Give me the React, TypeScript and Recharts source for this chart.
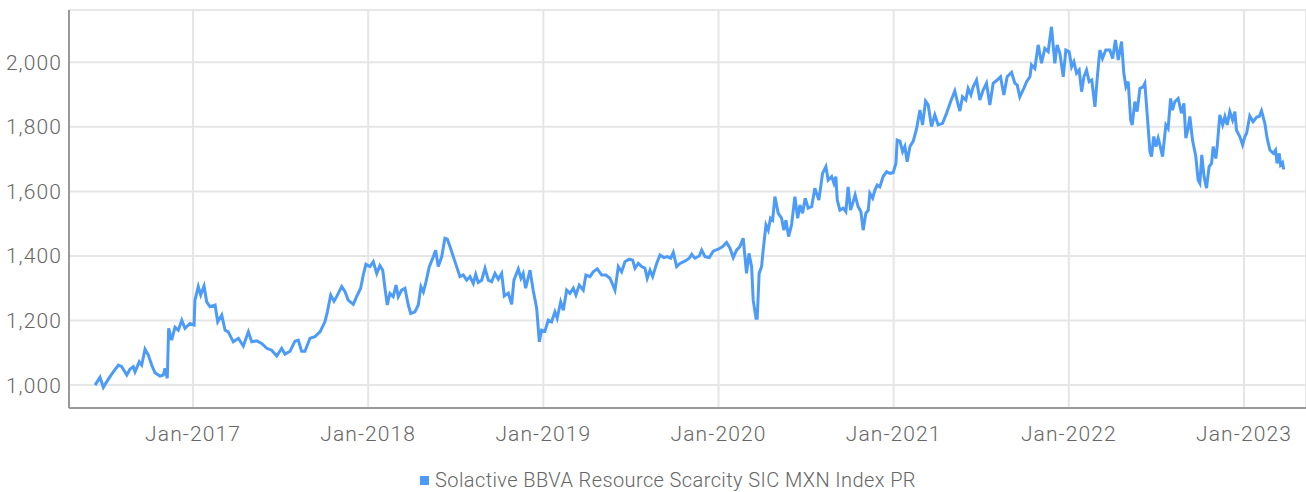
import { LineChart, Line, XAxis, YAxis, CartesianGrid, Legend } from 'recharts';

// time is a decimal year, level is the index value
const y2016: [number, number][] = [
  [2016.441, 1000], [2016.469, 1024], [2016.488, 993], [2016.507, 1010], [2016.526, 1026],
  [2016.545, 1041], [2016.574, 1062], [2016.593, 1057], [2016.622, 1031], [2016.640, 1049],
  [2016.659, 1057], [2016.669, 1041], [2016.693, 1072], [2016.707, 1062], [2016.726, 1111],
  [2016.745, 1093], [2016.764, 1062], [2016.783, 1038], [2016.812, 1028], [2016.830, 1031],
  [2016.840, 1052], [2016.853, 1021], [2016.861, 1176], [2016.878, 1139], [2016.897, 1179],
  [2016.916, 1170], [2016.936, 1201], [2016.954, 1176], [2016.983, 1191],
];

const y2017: [number, number][] = [
  [2017.006, 1186], [2017.011, 1263], [2017.030, 1305], [2017.044, 1279], [2017.063, 1307],
  [2017.078, 1258], [2017.097, 1243], [2017.126, 1248], [2017.141, 1196], [2017.164, 1217],
  [2017.183, 1170], [2017.201, 1165], [2017.230, 1134], [2017.259, 1145], [2017.287, 1121],
  [2017.316, 1165], [2017.335, 1134], [2017.364, 1137], [2017.392, 1129], [2017.421, 1114],
  [2017.449, 1108], [2017.478, 1090], [2017.506, 1114], [2017.525, 1096], [2017.554, 1105],
  [2017.582, 1136], [2017.601, 1139], [2017.620, 1105], [2017.639, 1105], [2017.668, 1145],
  [2017.696, 1150], [2017.725, 1165], [2017.753, 1196], [2017.767, 1227], [2017.786, 1279],
  [2017.805, 1260], [2017.820, 1274], [2017.849, 1305], [2017.868, 1289], [2017.886, 1263],
  [2017.915, 1250], [2017.934, 1274], [2017.957, 1300], [2017.972, 1341], [2017.987, 1374],
];

const y2018: [number, number][] = [
  [2018.010, 1367], [2018.029, 1382], [2018.049, 1346], [2018.067, 1370], [2018.083, 1356],
  [2018.096, 1300], [2018.109, 1248], [2018.124, 1284], [2018.143, 1274], [2018.159, 1310],
  [2018.172, 1274], [2018.191, 1294], [2018.210, 1300], [2018.229, 1248], [2018.243, 1222],
  [2018.267, 1227], [2018.286, 1248], [2018.301, 1305], [2018.315, 1289], [2018.330, 1320],
  [2018.349, 1367], [2018.372, 1398], [2018.385, 1418], [2018.400, 1367], [2018.420, 1398],
  [2018.438, 1455], [2018.452, 1452], [2018.467, 1429], [2018.486, 1398], [2018.505, 1367],
  [2018.524, 1336], [2018.543, 1341], [2018.562, 1325], [2018.581, 1336], [2018.600, 1315],
  [2018.614, 1343], [2018.628, 1318], [2018.648, 1325], [2018.667, 1362], [2018.686, 1325],
  [2018.705, 1320], [2018.724, 1346], [2018.743, 1328], [2018.762, 1346], [2018.777, 1276],
  [2018.800, 1285], [2018.819, 1250], [2018.832, 1325], [2018.857, 1360], [2018.872, 1331],
  [2018.885, 1346], [2018.899, 1300], [2018.924, 1356], [2018.942, 1294], [2018.962, 1238],
  [2018.977, 1134], [2018.990, 1170],
];

const y2019: [number, number][] = [
  [2019.009, 1167], [2019.028, 1201], [2019.047, 1196], [2019.066, 1227], [2019.079, 1207],
  [2019.099, 1258], [2019.114, 1232], [2019.133, 1294], [2019.152, 1284], [2019.171, 1300],
  [2019.186, 1279], [2019.205, 1310], [2019.228, 1294], [2019.243, 1341], [2019.266, 1336],
  [2019.285, 1351], [2019.308, 1360], [2019.333, 1341], [2019.357, 1341], [2019.380, 1331],
  [2019.393, 1315], [2019.409, 1294], [2019.428, 1367], [2019.447, 1351], [2019.466, 1382],
  [2019.490, 1390], [2019.510, 1387], [2019.523, 1362], [2019.542, 1377], [2019.561, 1367],
  [2019.580, 1362], [2019.593, 1331], [2019.609, 1356], [2019.624, 1336], [2019.647, 1377],
  [2019.666, 1403], [2019.688, 1395], [2019.707, 1398], [2019.727, 1393], [2019.742, 1411],
  [2019.761, 1367], [2019.780, 1377], [2019.808, 1384], [2019.833, 1393], [2019.847, 1405],
  [2019.865, 1393], [2019.890, 1400], [2019.904, 1418], [2019.923, 1398], [2019.947, 1395],
  [2019.970, 1415], [2019.998, 1421],
];

const y2020: [number, number][] = [
  [2020.024, 1429], [2020.046, 1442], [2020.065, 1425], [2020.084, 1395], [2020.103, 1418],
  [2020.122, 1429], [2020.141, 1455], [2020.160, 1346], [2020.174, 1408], [2020.189, 1367],
  [2020.198, 1263], [2020.214, 1207], [2020.221, 1207], [2020.232, 1346], [2020.246, 1367],
  [2020.255, 1418], [2020.271, 1496], [2020.284, 1480], [2020.297, 1517], [2020.309, 1511],
  [2020.322, 1584], [2020.341, 1532], [2020.360, 1517], [2020.373, 1480], [2020.385, 1511],
  [2020.400, 1460], [2020.417, 1496], [2020.436, 1584], [2020.452, 1517], [2020.465, 1558],
  [2020.480, 1532], [2020.495, 1579], [2020.512, 1548], [2020.532, 1553], [2020.550, 1610],
  [2020.573, 1573], [2020.594, 1656], [2020.613, 1677], [2020.626, 1635], [2020.646, 1646],
  [2020.659, 1625], [2020.670, 1646], [2020.678, 1573], [2020.693, 1542], [2020.712, 1548],
  [2020.727, 1537], [2020.740, 1614], [2020.754, 1542], [2020.769, 1568], [2020.780, 1589],
  [2020.797, 1553], [2020.813, 1537], [2020.826, 1480], [2020.841, 1532], [2020.855, 1542],
  [2020.864, 1594], [2020.880, 1579], [2020.893, 1604], [2020.906, 1620], [2020.921, 1614],
  [2020.940, 1646], [2020.960, 1661], [2020.978, 1656], [2020.997, 1658],
];

const y2021: [number, number][] = [
  [2021.013, 1687], [2021.020, 1759], [2021.036, 1756], [2021.051, 1723], [2021.064, 1739],
  [2021.077, 1692], [2021.093, 1739], [2021.112, 1756], [2021.131, 1795], [2021.150, 1852],
  [2021.165, 1806], [2021.182, 1880], [2021.197, 1868], [2021.216, 1801], [2021.235, 1837],
  [2021.254, 1806], [2021.279, 1811], [2021.302, 1842], [2021.325, 1878], [2021.349, 1911],
  [2021.363, 1880], [2021.378, 1849], [2021.393, 1893], [2021.412, 1883], [2021.425, 1919],
  [2021.441, 1899], [2021.454, 1924], [2021.473, 1945], [2021.492, 1883], [2021.511, 1914],
  [2021.530, 1935], [2021.549, 1868], [2021.568, 1935], [2021.591, 1945], [2021.610, 1955],
  [2021.629, 1899], [2021.648, 1955], [2021.673, 1969], [2021.692, 1935], [2021.705, 1930],
  [2021.720, 1893], [2021.743, 1919], [2021.759, 1940], [2021.778, 1955], [2021.787, 1992],
  [2021.806, 1981], [2021.825, 2054], [2021.844, 1997], [2021.863, 2043], [2021.882, 2033],
  [2021.901, 2110], [2021.920, 1997], [2021.933, 2054], [2021.949, 2028], [2021.968, 1955],
  [2021.983, 2038],
];

const y2022: [number, number][] = [
  [2022.002, 2033], [2022.016, 1986], [2022.029, 2002], [2022.044, 1966], [2022.059, 1976],
  [2022.073, 1909], [2022.086, 1955], [2022.101, 1976], [2022.116, 1940], [2022.131, 1945],
  [2022.149, 1862], [2022.162, 1950], [2022.177, 2038], [2022.192, 2012], [2022.211, 2038],
  [2022.234, 2038], [2022.250, 2012], [2022.266, 2069], [2022.282, 2007], [2022.301, 2064],
  [2022.314, 1966], [2022.326, 1924], [2022.339, 1940], [2022.353, 1821], [2022.362, 1806],
  [2022.377, 1878], [2022.390, 1847], [2022.406, 1919], [2022.424, 1924], [2022.434, 1935],
  [2022.447, 1842], [2022.463, 1723], [2022.472, 1708], [2022.485, 1770], [2022.497, 1739],
  [2022.510, 1765], [2022.520, 1744], [2022.535, 1708], [2022.554, 1806], [2022.567, 1795],
  [2022.581, 1888], [2022.592, 1852], [2022.605, 1878], [2022.624, 1888], [2022.643, 1842],
  [2022.657, 1873], [2022.668, 1765], [2022.681, 1795], [2022.691, 1832], [2022.706, 1759],
  [2022.725, 1708], [2022.738, 1635], [2022.748, 1625], [2022.759, 1713], [2022.772, 1646],
  [2022.786, 1610], [2022.801, 1677], [2022.815, 1687], [2022.824, 1739], [2022.839, 1702],
  [2022.847, 1739], [2022.862, 1837], [2022.878, 1806], [2022.891, 1832], [2022.904, 1806],
  [2022.919, 1847], [2022.935, 1821], [2022.948, 1847], [2022.957, 1790], [2022.976, 1770],
  [2022.992, 1744],
];

const y2023: [number, number][] = [
  [2023.005, 1770], [2023.015, 1780], [2023.033, 1834], [2023.052, 1816], [2023.072, 1830],
  [2023.087, 1832], [2023.100, 1850], [2023.119, 1811], [2023.132, 1765], [2023.148, 1728],
  [2023.167, 1718], [2023.180, 1728], [2023.189, 1687], [2023.201, 1718], [2023.209, 1682],
  [2023.220, 1689], [2023.227, 1668],
];

const yearTicks = [2017, 2018, 2019, 2020, 2021, 2022, 2023];
const levelTicks = [1000, 1200, 1400, 1600, 1800, 2000];
const seriesName = 'Solactive BBVA Resource Scarcity SIC MXN Index PR';

const data = [...y2016, ...y2017, ...y2018, ...y2019, ...y2020, ...y2021, ...y2022, ...y2023].map(
  ([t, v]) => ({ t, v })
);

const lineColor = '#4d9bf8';
const font = 'Roboto, sans-serif';
const tickStyle = { fill: '#666', fontSize: 21, fontFamily: font, fontWeight: 300, letterSpacing: 1.1 };

function LegendBox() {
  return (
    <div
      style={{
        display: 'flex',
        justifyContent: 'center',
        alignItems: 'center',
        paddingLeft: 30,
        fontFamily: font,
        fontWeight: 300,
        fontSize: 20,
        letterSpacing: 0.4,
        color: '#666',
        lineHeight: '24px',
      }}
    >
      <span style={{ width: 9, height: 9, background: lineColor, marginRight: 6, display: 'inline-block' }} />
      {seriesName}
    </div>
  );
}

export default function App() {
  return (
    <div style={{ position: 'absolute', left: 0, top: 0 }}>
      <LineChart width={1306} height={492} data={data} margin={{ top: 10, right: 0, bottom: 0, left: 0 }}>
        <CartesianGrid stroke="#e6e6e6" strokeWidth={2} />
        <XAxis
          dataKey="t"
          type="number"
          domain={[2016.292, 2023.354]}
          ticks={yearTicks}
          interval={0}
          allowDataOverflow
          tickFormatter={(t: number) => `Jan-${t}`}
          height={60}
          tickLine={false}
          tickSize={0}
          tickMargin={18}
          tick={tickStyle}
          axisLine={{ stroke: '#999', strokeWidth: 2 }}
        />
        <YAxis
          type="number"
          domain={[929, 2162]}
          ticks={levelTicks}
          interval={0}
          allowDataOverflow
          tickFormatter={(v: number) => v.toLocaleString('en-US')}
          width={69}
          tickLine={false}
          tickSize={0}
          tickMargin={7}
          tick={tickStyle}
          axisLine={{ stroke: '#999', strokeWidth: 2 }}
        />
        <Legend verticalAlign="bottom" align="center" content={() => <LegendBox />} />
        <Line
          type="linear"
          dataKey="v"
          name={seriesName}
          stroke={lineColor}
          strokeWidth={3}
          dot={false}
          isAnimationActive={false}
        />
      </LineChart>
    </div>
  );
}
